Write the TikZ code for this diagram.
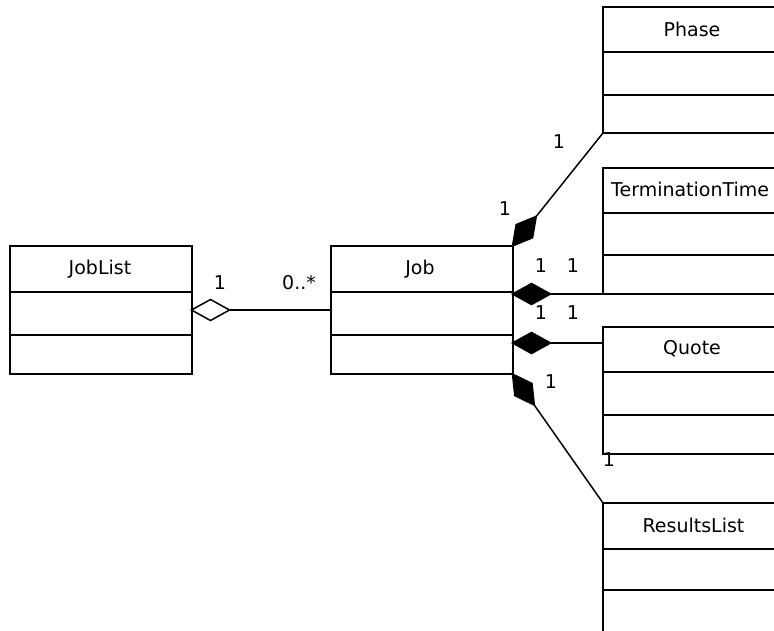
\documentclass[tikz,border=0pt]{standalone}
\usepackage{fontspec}
\setmainfont{DejaVu Sans}
\usetikzlibrary{calc}
\newcommand\umlclass[7]{%
  \node[classbox, minimum width=#4pt, minimum height=#5pt] (#1) at (#2,#3) {};
  \draw[divider] ([yshift=-#6pt]#1.north west) -- ([yshift=-#6pt]#1.north east);
  \draw[divider] ([yshift=-#7pt]#1.north west) -- ([yshift=-#7pt]#1.north east);
}
% diamond-ended connector: #1 start (diamond tip), #2 end, #3 fill
\newcommand\diamondline[3]{%
  \coordinate (dB) at ($(#1)!38pt!(#2)$);
  \coordinate (dM) at ($(#1)!19pt!(#2)$);
  \draw[conn] (dB) -- (#2);
  \draw[conn, fill=#3, line join=miter] (#1) -- ($(dM)!10.5pt!90:(dB)$) -- (dB) -- ($(dM)!10.5pt!-90:(dB)$) -- cycle;
}
\begin{document}
\begin{tikzpicture}[x=1pt,y=-1pt,
  classbox/.style={draw, line width=2pt, rectangle, inner sep=0pt, outer sep=0pt, anchor=north west},
  divider/.style={line width=2pt},
  title/.style={font=\fontsize{19}{22}\selectfont, inner sep=0pt},
  mult/.style={font=\fontsize{19}{22}\selectfont, inner sep=0pt},
  conn/.style={line width=1.5pt},
]
\useasboundingbox (0,0) rectangle (774,630);
\clip (0,0) rectangle (774,630);
\fill[white] (0,0) rectangle (774,630);

% classes
\umlclass{joblist}{10}{246}{181.5}{128}{46}{89}
\umlclass{job}{331}{246}{181.5}{128}{46}{89}
\umlclass{phase}{603}{7}{181}{126}{45}{88}
\umlclass{tt}{603}{168}{181}{126}{45}{87}
\umlclass{quote}{603}{327}{181}{127}{45}{88}
\umlclass{results}{603}{503}{181}{160}{46}{87}

% titles
\node[title] (joblistT) at (100,269) {JobList};
\node[title] (jobT) at (420,269) {Job};
\node[title] (phaseT) at (692,29.5) {Phase};
\node[title, anchor=west] (ttT) at (611,189) {TerminationTime};
\node[title] (quoteT) at (692,349) {Quote};
\node[title] (resultsT) at (693.5,525.5) {ResultsList};

% connectors
\coordinate (jle) at (joblist.east);
\coordinate (jw) at (job.west);
\diamondline{jle}{jw}{white}
\coordinate (jne) at (job.north east);
\coordinate (psw) at (phase.south west);
\diamondline{jne}{psw}{black}
\coordinate (ttc) at (tt.south west);
\coordinate (ttj) at (job.east |- ttc);
\diamondline{ttj}{ttc}{black}
\coordinate (qc) at ([yshift=-16pt]quote.north west);
\coordinate (qj) at (job.east |- qc);
\diamondline{qj}{qc}{black}
\coordinate (jse) at (job.south east);
\coordinate (rnw) at (results.north west);
\diamondline{jse}{rnw}{black}

% multiplicities
\node[mult] (m1) at (220,283) {1};
\node[mult] (m2) at (299,283) {0..*};
\node[mult] (m3) at (559,142) {1};
\node[mult] (m4) at (505,209) {1};
\node[mult] (m5) at (541,266) {1};
\node[mult] (m6) at (573,266) {1};
\node[mult] (m7) at (541,313) {1};
\node[mult] (m8) at (573,313) {1};
\node[mult] (m9) at (551,382) {1};
\node[mult] (m10) at (609,460) {1};
\end{tikzpicture}
\end{document}
